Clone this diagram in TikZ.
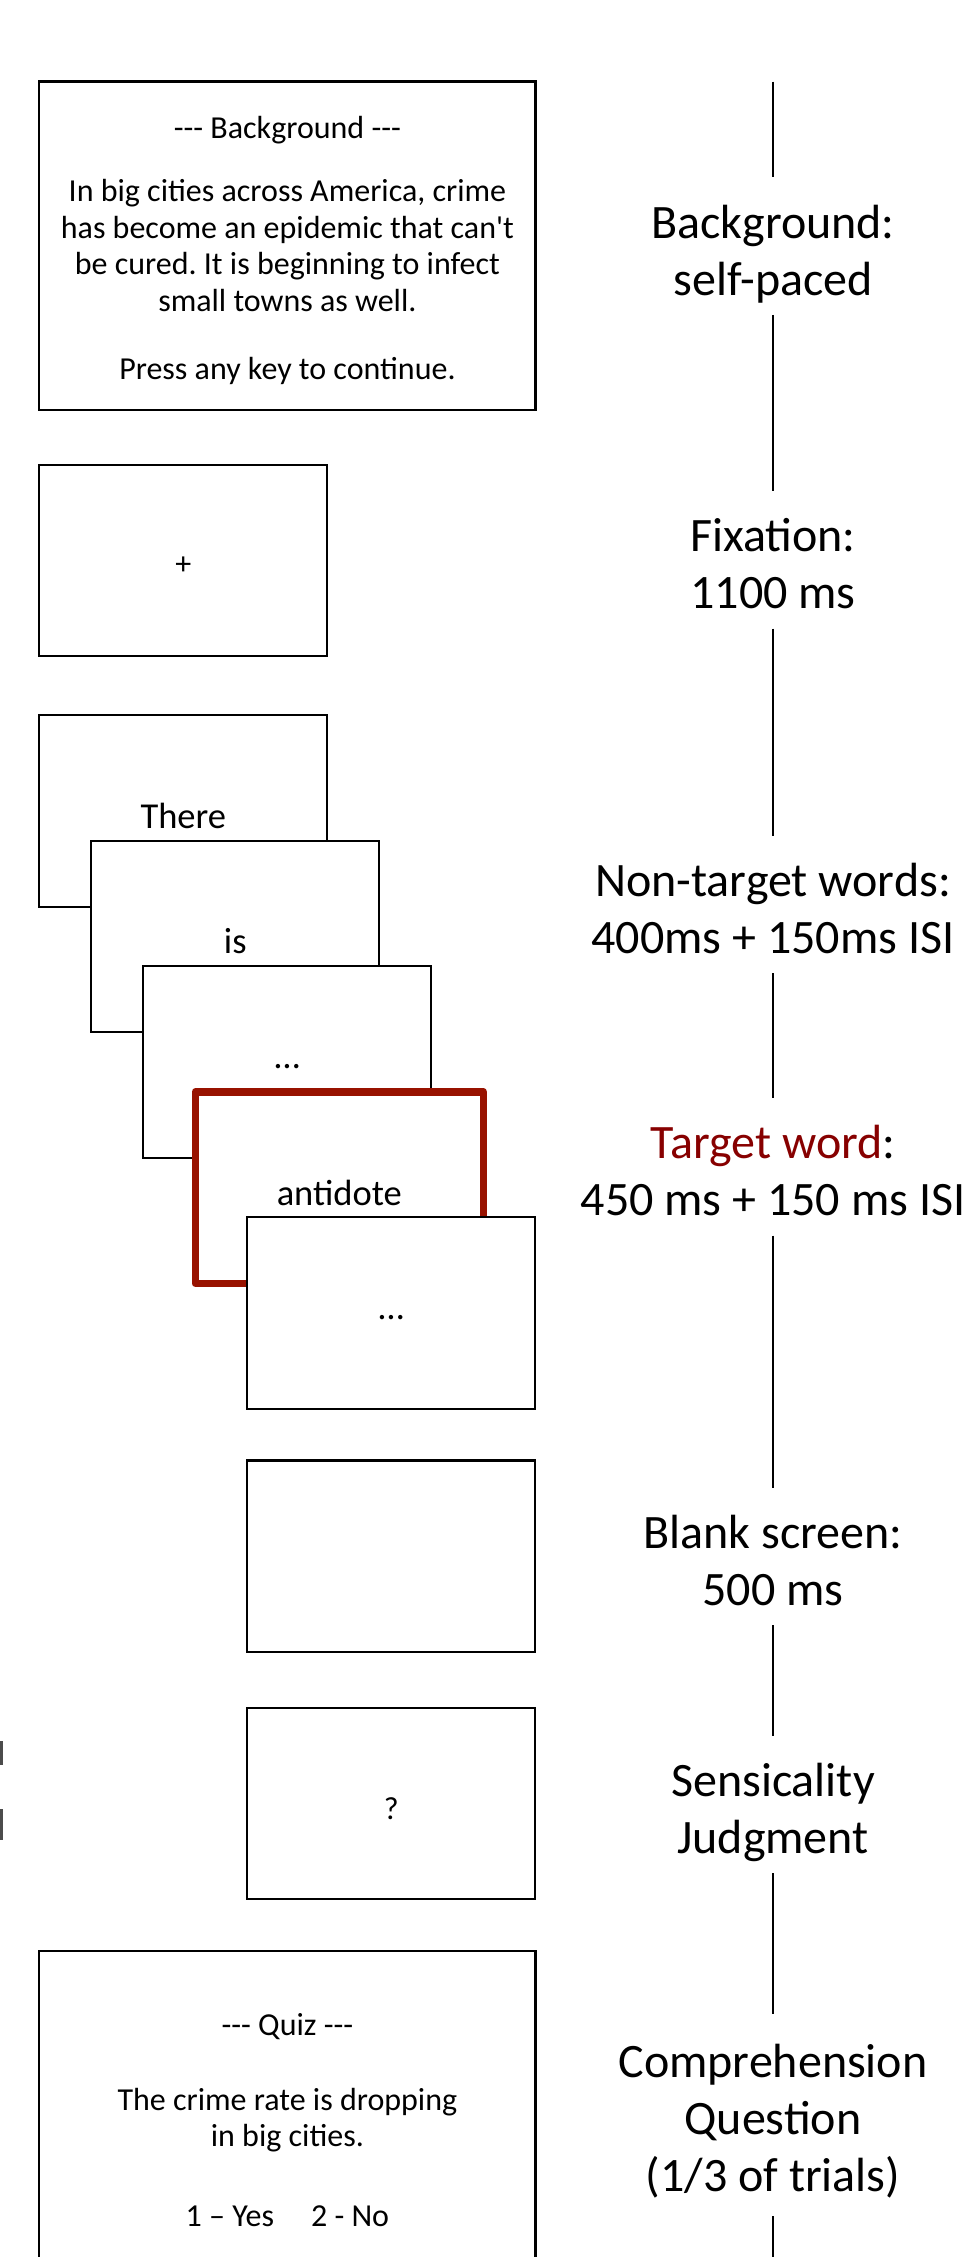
\documentclass[tikz,border=0pt]{standalone}
\usepackage{fontspec}
\setmainfont{Carlito}
\frenchspacing
\definecolor{targetred}{RGB}{152,18,0}
\definecolor{labelred}{RGB}{135,0,0}
\newcommand\scrtext{\fontsize{32}{36.5}\selectfont}
\newcommand\scrword{\fontsize{36.5}{42}\selectfont}
\newcommand\phasefont{\fontsize{48}{57}\selectfont}
\newcommand\tripledash{\mbox{-}\mbox{-}\mbox{-}}
% invisible rules that fix the height above the first line / depth below the last line
\newcommand\topstrut[1]{\rule{0pt}{#1}}
\newcommand\botstrut[1]{\rule[-#1]{0pt}{#1}}
% single-line screen text sits slightly below the centre of its screen
\newcommand\lowtext[1]{\raisebox{-5pt}[\height][\depth]{#1}}
\begin{document}
\begin{tikzpicture}[x=1pt,y=-1pt,
  screen/.style={draw=black,line width=2.2pt,fill=white,minimum width=288pt,
    minimum height=191.5pt,inner sep=0pt,align=center,font=\scrword},
  bigscreen/.style={screen,minimum width=496.2pt,minimum height=328.5pt,font=\scrtext},
  target/.style={screen,draw=targetred,line width=7.5pt,line join=round},
  phase/.style={align=center,font=\phasefont,inner xsep=0pt,inner ysep=11.5pt},
  timeline/.style={draw=black,line width=2.2pt}]
\path[use as bounding box] (0,0) rectangle (964,2257);

% instruction screen
\node[bigscreen] (bg) at (287.4,245.8)
  {\topstrut{36.55pt}\tripledash{} Background \tripledash\\[27pt]
   In big cities across America, crime\\
   has become an epidemic that can\textquotesingle t\\
   be cured. It is beginning to infect\\
   small towns as well.\\[31.5pt]
   Press any key to continue.\botstrut{10.95pt}};

% fixation cross
\node[screen,font=\scrtext] (fix) at (183.3,560.5) {\lowtext{+}};

% RSVP word stream, each screen stacked on the previous one
\node[screen] (w1) at (183.3,811.05) {\lowtext{There}};
\node[screen] (w2) at (235.3,936.55) {\lowtext{is}};
\node[screen] (w3) at (287.3,1062.05) {\lowtext{…}};
\node[target] (w4) at (339.3,1187.55) {\lowtext{antidote}};
\node[screen] (w5) at (391.3,1313.05) {\lowtext{…}};

% blank and judgment screens
\node[screen] (blank) at (391.3,1556.2) {};
\node[screen,font=\scrtext] (judge) at (391.3,1803.6) {\lowtext{?}};

% comprehension quiz screen
\node[bigscreen] (quiz) at (287.4,2115.3)
  {\topstrut{42.55pt}\tripledash{} Quiz \tripledash\\[38pt]
   The crime rate is dropping\\
   in big cities.\\[43pt]
   1 – Yes\hspace{37pt}2 - No\botstrut{10.95pt}};

% phase labels along the timeline
\node[phase] (p1) at (773,246.1) {\topstrut{48.9pt}Background:\\self-paced\botstrut{8.1pt}};
\node[phase] (p2) at (773,559.8) {\topstrut{48.9pt}Fixation:\\1100 ms\botstrut{8.1pt}};
\node[phase] (p3) at (773,904.4) {\topstrut{48.9pt}Non-target words:\\400ms + 150ms ISI\botstrut{8.1pt}};
\node[phase] (p4) at (773,1167.0) {\topstrut{48.9pt}\textcolor{labelred}{Target word}:\\450 ms + 150 ms ISI\botstrut{8.1pt}};
\node[phase] (p5) at (773,1556.7) {\topstrut{48.9pt}Blank screen:\\500 ms\botstrut{8.1pt}};
\node[phase] (p6) at (773,1804.3) {\topstrut{48.9pt}Sensicality\\Judgment\botstrut{8.1pt}};
\node[phase] (p7) at (773,2114.9) {\topstrut{52.4pt}Comprehension\\Question\\(1/3 of trials)\botstrut{12.6pt}};

% timeline segments between the labels
\coordinate (tltop) at (773,81.5);
\coordinate (tlbot) at (773,2262);
\draw[timeline] (tltop) -- (p1);
\draw[timeline] (p1) -- (p2);
\draw[timeline] (p2) -- (p3);
\draw[timeline] (p3) -- (p4);
\draw[timeline] (p4) -- (p5);
\draw[timeline] (p5) -- (p6);
\draw[timeline] (p6) -- (p7);
\draw[timeline] (p7) -- (tlbot);

% cut-off mark at the left edge
\fill[black!70] (0,1741) rectangle (2.5,1765);
\fill[black!70] (0,1809) rectangle (2.5,1840);
\end{tikzpicture}
\end{document}
